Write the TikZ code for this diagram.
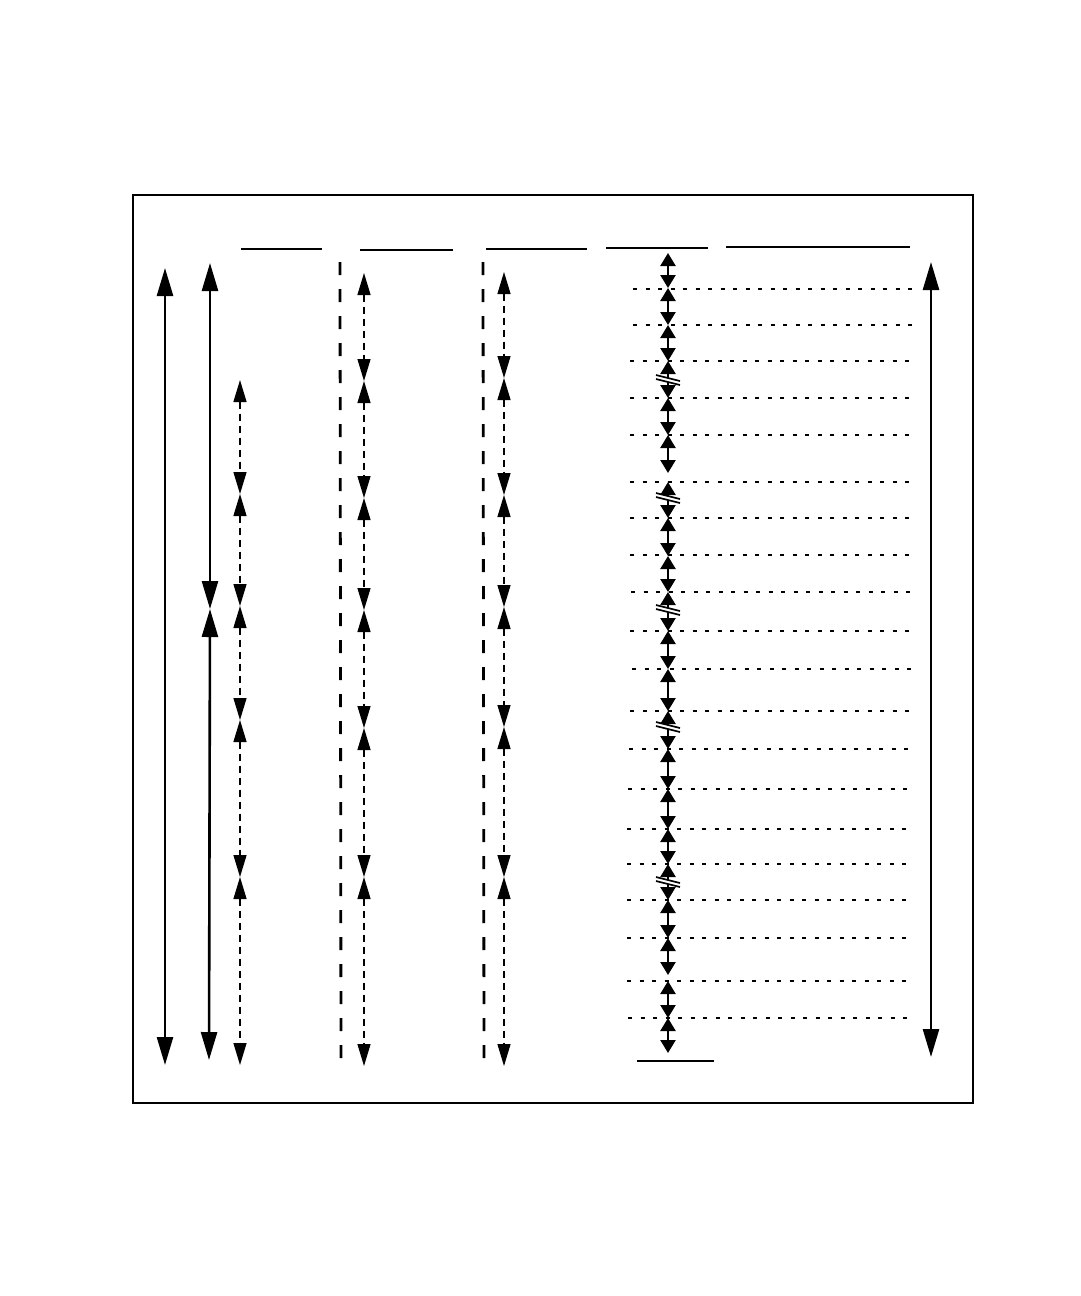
\documentclass[tikz,border=0pt]{standalone}
\usetikzlibrary{arrows.meta}
\tikzset{
  frameline/.style={line width=1.2pt},
  bigarrow/.style={line width=2.6pt,{Triangle[length=28pt,width=16pt]}-{Triangle[length=28pt,width=16pt]}},
  dasharrow/.style={line width=1.3pt,dash pattern=on 7pt off 5pt,{Triangle[length=22pt,width=13pt]}-{Triangle[length=22pt,width=13pt]}},
  longdash/.style={line width=2.8pt,dash pattern=on 13pt off 14pt},
  harrow/.style={line width=2.4pt,{Triangle[length=13pt,width=15pt]}-{Triangle[length=13pt,width=15pt]}},
  dotline/.style={line width=2.6pt,dash pattern=on 4pt off 8.5pt},
  capline/.style={line width=2.2pt},
  breakmark/.style={line width=1.7pt}
}
\begin{document}
\begin{tikzpicture}[x=1pt,y=-1pt]
\useasboundingbox (0,0) rectangle (1080,1296);
% frame
\draw[frameline] (133,195) rectangle (973,1103);
% top caps
\coordinate (t1a) at (241,249); \coordinate (t1b) at (322,249);
\coordinate (t2a) at (360,250); \coordinate (t2b) at (453,250);
\coordinate (t3a) at (486,249); \coordinate (t3b) at (587,249);
\coordinate (t4a) at (606,248); \coordinate (t4b) at (708,248);
\coordinate (t5a) at (726,247); \coordinate (t5b) at (910,247);
\coordinate (b1a) at (637,1061); \coordinate (b1b) at (714,1061);
\foreach \n in {t1,t2,t3,t4,t5,b1} \draw[capline] (\n a) -- (\n b);
% column A
\coordinate (A1) at (165,268); \coordinate (A2) at (165,1065);
\draw[bigarrow] (A1) -- (A2);
% column B
\coordinate (B1) at (210,263); \coordinate (B2) at (210,609); \coordinate (B3) at (209,1060);
\draw[bigarrow] (B1) -- (B2);
\draw[bigarrow] (B2) -- (B3);
% column I
\coordinate (I1) at (931,262); \coordinate (I2) at (931,1057);
\draw[bigarrow] (I1) -- (I2);
% long dashed columns
\coordinate (D1) at (340,262); \coordinate (D2) at (341,1060);
\draw[longdash] (D1) -- (D2);
\coordinate (F1) at (483,262); \coordinate (F2) at (484,1060);
\draw[longdash] (F1) -- (F2);
% dashed arrow columns
\foreach \y in {380,494,606,720,877,1065} \coordinate (C-\y) at (240,\y);
\foreach \a/\b in {380/494,494/606,606/720,720/877,877/1065} \draw[dasharrow] (C-\a) -- (C-\b);
\foreach \y in {273,381,498,610,728,877,1066} \coordinate (E-\y) at (364,\y);
\foreach \a/\b in {273/381,381/498,498/610,610/728,728/877,877/1066} \draw[dasharrow] (E-\a) -- (E-\b);
\foreach \y in {272,378,495,607,727,877,1066} \coordinate (G-\y) at (504,\y);
\foreach \a/\b in {272/378,378/495,495/607,607/727,727/877,877/1066} \draw[dasharrow] (G-\a) -- (G-\b);
% dotted lines
\foreach \y/\xa/\xb in {289/633/914,325/633/914,361/630/910,398/630/910,435/630/910,482/630/910,518/630/910,555/630/910,592/631/910,631/630/910,669/632/912,711/630/910,749/629/909,789/628/907,829/627/907,864/627/907,900/627/907,938/627/907,981/627/907,1018/628/907}{
  \coordinate (L\y a) at (\xa,\y); \coordinate (L\y b) at (\xb,\y);
  \draw[dotline] (L\y a) -- (L\y b);
}
% column H
\foreach \y in {253,288,325,361,398,435,473,482,518,556,592,631,669,711,749,789,829,864,900,938,975,981,1018,1053} \coordinate (H-\y) at (668,\y);
\foreach \a/\b in {253/288,288/325,325/361,361/398,398/435,435/473,482/518,518/556,556/592,592/631,631/669,669/711,711/749,749/789,789/829,829/864,864/900,900/938,938/975,981/1018,1018/1053} \draw[harrow] (H-\a) -- (H-\b);
% break marks
\foreach \y in {380,498,610,727,882}{
  \fill[white] (656,\y-5) -- (680,\y+1) -- (680,\y+5) -- (656,\y-1) -- cycle;
  \draw[breakmark] (656,\y-5) -- (680,\y+1);
  \draw[breakmark] (656,\y-1) -- (680,\y+5);
}
\end{tikzpicture}
\end{document}
